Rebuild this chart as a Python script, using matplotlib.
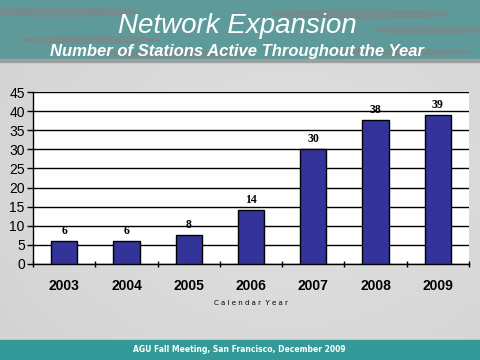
import numpy as np
import matplotlib
matplotlib.use('Agg')
import matplotlib.pyplot as plt
from matplotlib.patches import Rectangle, Ellipse

# Data
years = ['2003', '2004', '2005', '2006', '2007', '2008', '2009']
stations = [6, 6, 7.5, 14, 30, 37.7, 39]
value_labels = ['6', '6', '8', '14', '30', '38', '39']
y_ticks = [0, 5, 10, 15, 20, 25, 30, 35, 40, 45]

fig = plt.figure(figsize=(4.8, 3.6), dpi=100)

# Slide background (light grey gradient)
bg = fig.add_axes([0, 0, 1, 1])
bg.set_xlim(0, 480)
bg.set_ylim(360, 0)
bg.axis('off')
grad = np.linspace(0, 1, 256)
gx, gy = np.meshgrid(grad, grad)
shade = 0.88 - 0.07 * np.sqrt((gx - 0.6) ** 2 + (gy - 0.5) ** 2)
bg.imshow(shade, cmap='gray', vmin=0, vmax=1, extent=[0, 480, 360, 0], aspect='auto')

# Header band with grey streaks
bg.add_patch(Rectangle((0, 0), 480, 61, color='#5f9a9a', zorder=2))
for (cx, cy, w, h) in [(60, 12, 160, 8), (360, 14, 180, 8),
                       (90, 40, 140, 6), (430, 30, 110, 6),
                       (170, 54, 160, 5), (400, 52, 140, 5)]:
    bg.add_patch(Ellipse((cx, cy), w, h, color='#808585', alpha=0.6, zorder=3))
bg.add_patch(Rectangle((0, 59), 480, 3, color='#9aa0a0', zorder=4))

# Footer band
bg.add_patch(Rectangle((0, 340), 480, 20, color='#339999', zorder=2))

fig.text(0.494, 0.928, 'Network Expansion', ha='center', va='center',
         color='white', fontsize=20, style='italic', family='Liberation Sans', zorder=5)
fig.text(0.494, 0.858, 'Number of Stations Active Throughout the Year', ha='center',
         va='center', color='white', fontsize=12, style='italic', weight='bold',
         family='Liberation Sans', zorder=5)
fig.text(0.498, 0.028, 'AGU Fall Meeting, San Francisco, December 2009', ha='center',
         va='center', color='white', fontsize=5.5, weight='bold', family='DejaVu Sans')

# Chart
ax = fig.add_axes([0.069, 0.267, 0.908, 0.477])
x = np.arange(len(years))
ax.bar(x, stations, width=0.42, color='#333399', edgecolor='black', linewidth=1, zorder=3)
for xi, v, lab in zip(x, stations, value_labels):
    ax.text(xi, v + 1.1, lab, ha='center', va='bottom', fontsize=8.5,
            weight='bold', family='Liberation Serif')

ax.set_xlim(-0.5, len(years) - 0.5)
ax.set_ylim(0, 45)
ax.set_yticks(y_ticks)
ax.set_yticklabels([str(t) for t in y_ticks], fontsize=10, family='Liberation Sans')
ax.set_xticks(x)
ax.set_xticklabels(years, fontsize=10, weight='bold', family='Liberation Sans')
ax.set_xticks(np.arange(-0.5, len(years)), minor=True)
ax.tick_params(axis='x', which='major', length=0, pad=11)
ax.tick_params(axis='x', which='minor', length=5, direction='inout', width=1)
ax.tick_params(axis='y', length=4, width=1, direction='out', pad=2)
ax.yaxis.grid(True, color='black', linewidth=1, zorder=0)
ax.set_axisbelow(True)
for s in ['top', 'right']:
    ax.spines[s].set_visible(False)
ax.spines['left'].set_linewidth(1)
ax.spines['bottom'].set_linewidth(1)
ax.set_facecolor('white')
ax.set_xlabel('C a l e n d a r  Y e a r', fontsize=5, family='DejaVu Sans', labelpad=5)

fig.savefig('out.png', dpi=100)
